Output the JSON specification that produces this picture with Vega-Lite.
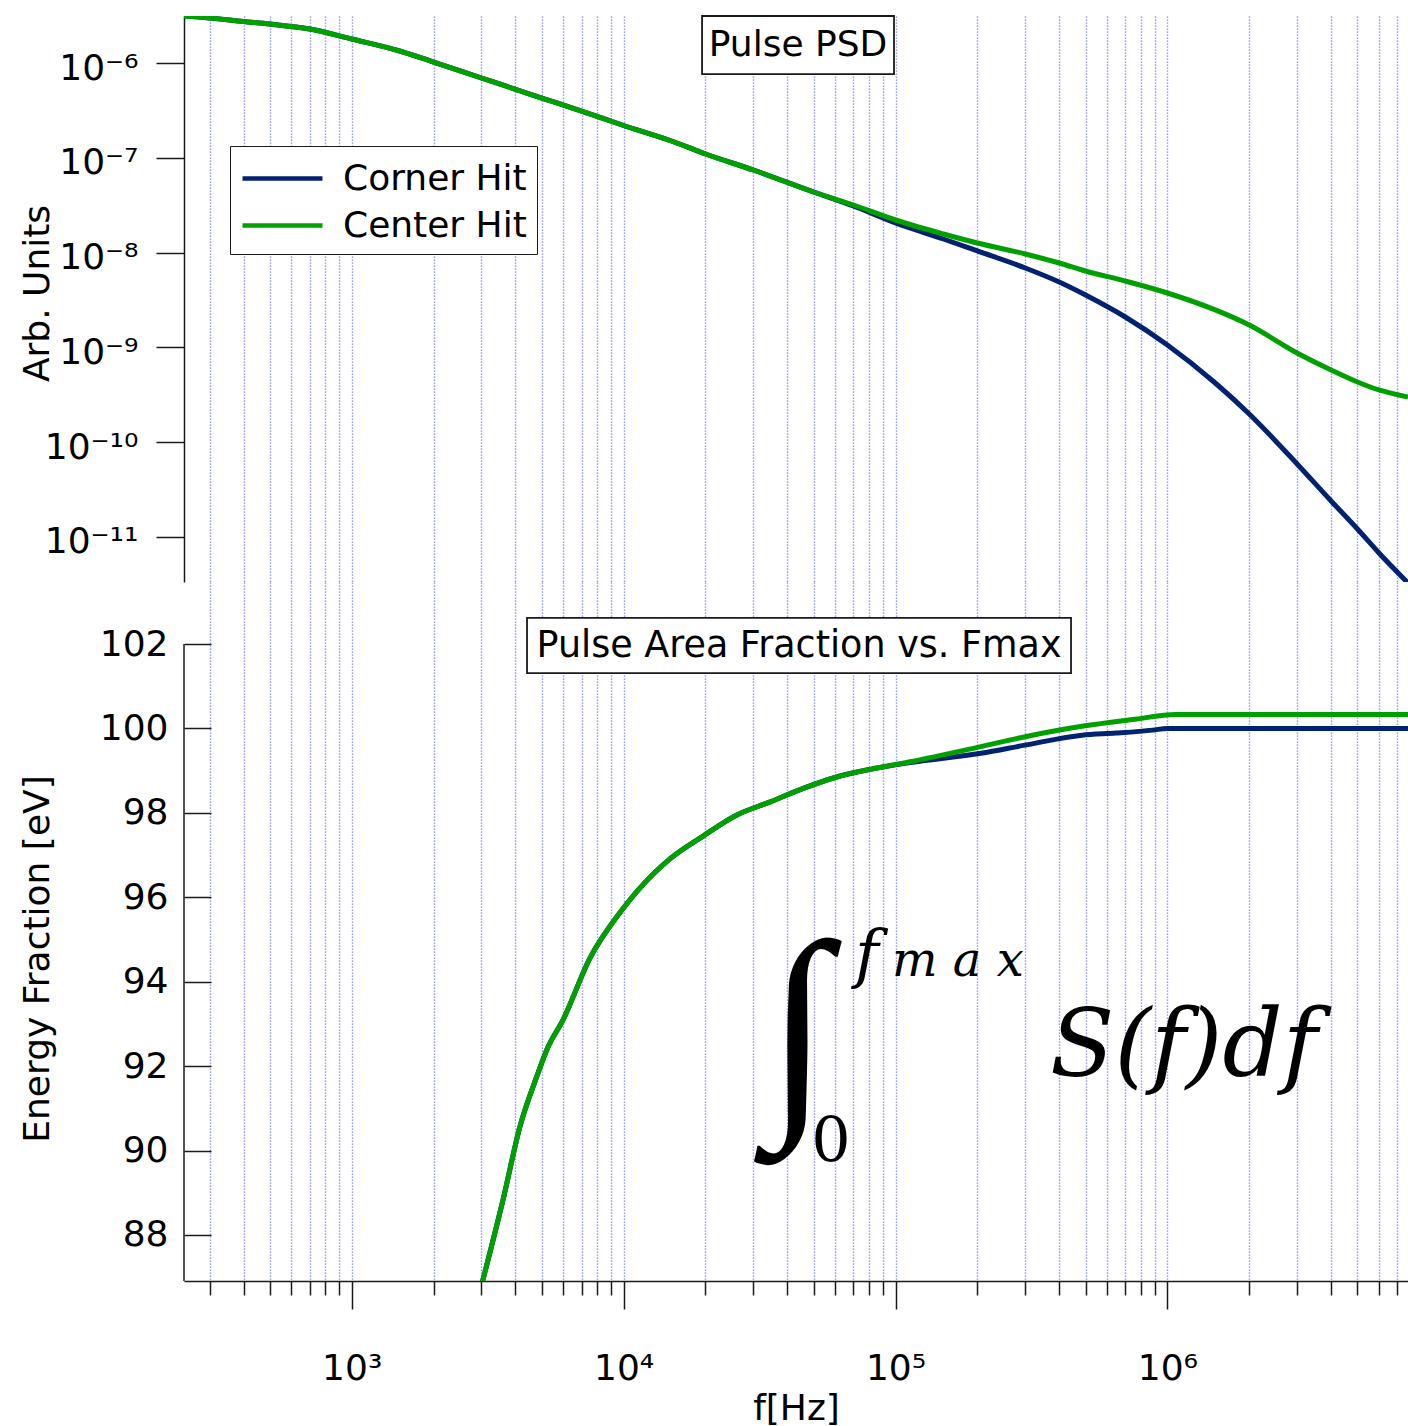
{
  "$schema": "https://vega.github.io/schema/vega-lite/v6.json",
  "background": "white",
  "padding": {"left": 19, "top": 15, "right": 0, "bottom": 0},
  "config": {
    "view": {"stroke": null},
    "font": "DejaVu Sans",
    "axis": {
      "labelFont": "DejaVu Sans", "titleFont": "DejaVu Sans",
      "labelFontSize": 36, "titleFontSize": 36, "titleFontWeight": "normal",
      "labelColor": "black", "titleColor": "black",
      "domainColor": "#1a1a1a", "tickColor": "#1a1a1a",
      "domainWidth": 1.5, "tickWidth": 1.5,
      "gridColor": "#8080ff", "gridDash": [1.2, 1.8], "gridWidth": 1.4, "gridOpacity": 1
    }
  },
  "datasets": {
    "psd": [
      {"s": "Corner Hit", "f": 241.6, "v": 3.132e-6}, {"s": "Corner Hit", "f": 300, "v": 2.983e-6},
      {"s": "Corner Hit", "f": 400, "v": 2.740e-6}, {"s": "Corner Hit", "f": 500, "v": 2.579e-6},
      {"s": "Corner Hit", "f": 700, "v": 2.284e-6}, {"s": "Corner Hit", "f": 1000, "v": 1.791e-6},
      {"s": "Corner Hit", "f": 1500, "v": 1.339e-6}, {"s": "Corner Hit", "f": 2000, "v": 1.024e-6},
      {"s": "Corner Hit", "f": 3000, "v": 6.947e-7}, {"s": "Corner Hit", "f": 5000, "v": 4.272e-7},
      {"s": "Corner Hit", "f": 7000, "v": 3.116e-7}, {"s": "Corner Hit", "f": 10000, "v": 2.191e-7},
      {"s": "Corner Hit", "f": 15000, "v": 1.504e-7}, {"s": "Corner Hit", "f": 20000, "v": 1.097e-7},
      {"s": "Corner Hit", "f": 30000, "v": 7.434e-8}, {"s": "Corner Hit", "f": 50000, "v": 4.357e-8},
      {"s": "Corner Hit", "f": 70000, "v": 3.101e-8}, {"s": "Corner Hit", "f": 100000, "v": 2.052e-8},
      {"s": "Corner Hit", "f": 150000, "v": 1.391e-8}, {"s": "Corner Hit", "f": 200000, "v": 1.040e-8},
      {"s": "Corner Hit", "f": 300000, "v": 6.88e-9}, {"s": "Corner Hit", "f": 400000, "v": 4.896e-9},
      {"s": "Corner Hit", "f": 500000, "v": 3.570e-9}, {"s": "Corner Hit", "f": 700000, "v": 2.092e-9},
      {"s": "Corner Hit", "f": 1000000, "v": 1.060e-9}, {"s": "Corner Hit", "f": 1500000, "v": 4.212e-10},
      {"s": "Corner Hit", "f": 2000000, "v": 1.984e-10}, {"s": "Corner Hit", "f": 3000000, "v": 5.888e-11},
      {"s": "Corner Hit", "f": 4000000, "v": 2.397e-11}, {"s": "Corner Hit", "f": 5000000, "v": 1.214e-11},
      {"s": "Corner Hit", "f": 6000000, "v": 6.783e-12}, {"s": "Corner Hit", "f": 7672000, "v": 3.271e-12},
      {"s": "Center Hit", "f": 241.6, "v": 3.132e-6}, {"s": "Center Hit", "f": 300, "v": 2.983e-6},
      {"s": "Center Hit", "f": 400, "v": 2.740e-6}, {"s": "Center Hit", "f": 500, "v": 2.579e-6},
      {"s": "Center Hit", "f": 700, "v": 2.284e-6}, {"s": "Center Hit", "f": 1000, "v": 1.791e-6},
      {"s": "Center Hit", "f": 1500, "v": 1.339e-6}, {"s": "Center Hit", "f": 2000, "v": 1.024e-6},
      {"s": "Center Hit", "f": 3000, "v": 6.947e-7}, {"s": "Center Hit", "f": 5000, "v": 4.272e-7},
      {"s": "Center Hit", "f": 7000, "v": 3.116e-7}, {"s": "Center Hit", "f": 10000, "v": 2.191e-7},
      {"s": "Center Hit", "f": 15000, "v": 1.504e-7}, {"s": "Center Hit", "f": 20000, "v": 1.097e-7},
      {"s": "Center Hit", "f": 30000, "v": 7.434e-8}, {"s": "Center Hit", "f": 50000, "v": 4.357e-8},
      {"s": "Center Hit", "f": 70000, "v": 3.177e-8}, {"s": "Center Hit", "f": 100000, "v": 2.207e-8},
      {"s": "Center Hit", "f": 150000, "v": 1.571e-8}, {"s": "Center Hit", "f": 200000, "v": 1.263e-8},
      {"s": "Center Hit", "f": 300000, "v": 9.665e-9}, {"s": "Center Hit", "f": 400000, "v": 7.768e-9},
      {"s": "Center Hit", "f": 500000, "v": 6.394e-9}, {"s": "Center Hit", "f": 700000, "v": 5.010e-9},
      {"s": "Center Hit", "f": 1000000, "v": 3.748e-9}, {"s": "Center Hit", "f": 1500000, "v": 2.484e-9},
      {"s": "Center Hit", "f": 2000000, "v": 1.722e-9}, {"s": "Center Hit", "f": 3000000, "v": 8.729e-10},
      {"s": "Center Hit", "f": 4000000, "v": 5.775e-10}, {"s": "Center Hit", "f": 5000000, "v": 4.315e-10},
      {"s": "Center Hit", "f": 6000000, "v": 3.553e-10}, {"s": "Center Hit", "f": 7672000, "v": 2.997e-10}
    ],
    "area": [
      {"s": "Corner Hit", "f": 3000, "e": 86.8}, {"s": "Corner Hit", "f": 3610, "e": 88.86},
      {"s": "Corner Hit", "f": 4160, "e": 90.58}, {"s": "Corner Hit", "f": 4790, "e": 91.75},
      {"s": "Corner Hit", "f": 5220, "e": 92.39}, {"s": "Corner Hit", "f": 6000, "e": 93.11},
      {"s": "Corner Hit", "f": 7520, "e": 94.56}, {"s": "Corner Hit", "f": 9700, "e": 95.64},
      {"s": "Corner Hit", "f": 11200, "e": 96.14}, {"s": "Corner Hit", "f": 14800, "e": 96.91},
      {"s": "Corner Hit", "f": 19600, "e": 97.45}, {"s": "Corner Hit", "f": 26100, "e": 97.95},
      {"s": "Corner Hit", "f": 34600, "e": 98.26}, {"s": "Corner Hit", "f": 45800, "e": 98.58},
      {"s": "Corner Hit", "f": 60800, "e": 98.85}, {"s": "Corner Hit", "f": 80600, "e": 99.03},
      {"s": "Corner Hit", "f": 113000, "e": 99.19}, {"s": "Corner Hit", "f": 206000, "e": 99.41},
      {"s": "Corner Hit", "f": 303000, "e": 99.61}, {"s": "Corner Hit", "f": 485000, "e": 99.84},
      {"s": "Corner Hit", "f": 646000, "e": 99.89}, {"s": "Corner Hit", "f": 883000, "e": 99.96},
      {"s": "Corner Hit", "f": 1000000, "e": 100.0}, {"s": "Corner Hit", "f": 7672000, "e": 100.0},
      {"s": "Center Hit", "f": 3000, "e": 86.8}, {"s": "Center Hit", "f": 3610, "e": 88.86},
      {"s": "Center Hit", "f": 4160, "e": 90.58}, {"s": "Center Hit", "f": 4790, "e": 91.75},
      {"s": "Center Hit", "f": 5220, "e": 92.39}, {"s": "Center Hit", "f": 6000, "e": 93.11},
      {"s": "Center Hit", "f": 7520, "e": 94.56}, {"s": "Center Hit", "f": 9700, "e": 95.64},
      {"s": "Center Hit", "f": 11200, "e": 96.14}, {"s": "Center Hit", "f": 14800, "e": 96.91},
      {"s": "Center Hit", "f": 19600, "e": 97.45}, {"s": "Center Hit", "f": 26100, "e": 97.95},
      {"s": "Center Hit", "f": 34600, "e": 98.26}, {"s": "Center Hit", "f": 45800, "e": 98.58},
      {"s": "Center Hit", "f": 60800, "e": 98.85}, {"s": "Center Hit", "f": 80600, "e": 99.03},
      {"s": "Center Hit", "f": 113000, "e": 99.21}, {"s": "Center Hit", "f": 206000, "e": 99.57},
      {"s": "Center Hit", "f": 303000, "e": 99.81}, {"s": "Center Hit", "f": 485000, "e": 100.05},
      {"s": "Center Hit", "f": 744000, "e": 100.21}, {"s": "Center Hit", "f": 1076000, "e": 100.33},
      {"s": "Center Hit", "f": 7672000, "e": 100.33}
    ]
  },
  "spacing": 0,
  "resolve": {"legend": {"color": "independent"}},
  "vconcat": [
    {
      "width": 1224,
      "height": 566,
      "layer": [
        {
          "data": {"name": "psd"},
          "mark": {"type": "line", "strokeWidth": 5, "clip": true, "interpolate": "monotone"},
          "encoding": {
            "x": {
              "field": "f", "type": "quantitative",
              "scale": {"type": "log", "domain": [241.6, 7672000], "nice": false},
              "axis": {
                "values": [300,400,500,600,700,800,900,1000,2000,3000,4000,5000,6000,7000,8000,9000,10000,20000,30000,40000,50000,60000,70000,80000,90000,100000,200000,300000,400000,500000,600000,700000,800000,900000,1000000,2000000,3000000,4000000,5000000,6000000,7000000],
                "grid": true, "domain": false, "ticks": false, "labels": false, "title": null
              }
            },
            "y": {
              "field": "v", "type": "quantitative",
              "scale": {"type": "log", "domain": [3.35e-12, 3.132e-6], "nice": false},
              "axis": {
                "values": [1e-11, 1e-10, 1e-9, 1e-8, 1e-7, 1e-6],
                "grid": false, "tickSize": 28, "labelPadding": 18, "labelOffset": 5,
                "labelExpr": "datum.value < 5e-11 ? '10⁻¹¹' : datum.value < 5e-10 ? '10⁻¹⁰' : datum.value < 5e-9 ? '10⁻⁹' : datum.value < 5e-8 ? '10⁻⁸' : datum.value < 5e-7 ? '10⁻⁷' : '10⁻⁶'",
                "title": "Arb. Units", "titleX": -136, "titleY": 277, "titleAngle": 270,
                "titleBaseline": "alphabetic", "titleAlign": "center"
              }
            },
            "color": {
              "field": "s", "type": "nominal",
              "scale": {"domain": ["Corner Hit", "Center Hit"], "range": ["#002270", "#00a000"]},
              "legend": {
                "title": null, "orient": "none", "legendX": 46, "legendY": 130,
                "symbolType": "M-1,0H3", "symbolSize": 1600, "symbolStrokeWidth": 4.5,
                "labelFontSize": 36, "labelFont": "DejaVu Sans", "labelColor": "black", "labelLimit": 500,
                "strokeColor": "#1a1a1a", "fillColor": "white", "padding": 10,
                "labelOffset": 58, "rowPadding": 6
              }
            }
          }
        },
        {
          "data": {"values": [{}]},
          "mark": {"type": "rect", "fill": "white", "stroke": "#1a1a1a", "strokeWidth": 1.8},
          "encoding": {
            "x": {"datum": 19430, "type": "quantitative"}, "x2": {"datum": 98740},
            "y": {"datum": 3.132e-6, "type": "quantitative"}, "y2": {"datum": 7.65e-7}
          }
        },
        {
          "data": {"values": [{}]},
          "mark": {"type": "text", "text": "Pulse PSD", "fontSize": 36, "font": "DejaVu Sans", "align": "center", "baseline": "middle", "color": "black"},
          "encoding": {
            "x": {"datum": 43790, "type": "quantitative"},
            "y": {"datum": 1.548e-6, "type": "quantitative"}
          }
        }
      ]
    },
    {
      "width": 1224,
      "height": 699,
      "layer": [
        {
          "data": {"name": "area"},
          "mark": {"type": "line", "strokeWidth": 5, "clip": true, "interpolate": "monotone"},
          "encoding": {
            "x": {
              "field": "f", "type": "quantitative",
              "scale": {"type": "log", "domain": [241.6, 7672000], "nice": false},
              "axis": {
                "values": [300,400,500,600,700,800,900,1000,2000,3000,4000,5000,6000,7000,8000,9000,10000,20000,30000,40000,50000,60000,70000,80000,90000,100000,200000,300000,400000,500000,600000,700000,800000,900000,1000000,2000000,3000000,4000000,5000000,6000000,7000000],
                "grid": true,
                "tickSize": {"condition": {"test": "datum.value == 1000 || datum.value == 10000 || datum.value == 100000 || datum.value == 1000000", "value": 28}, "value": 14},
                "labelExpr": "datum.value == 1000 ? '10³' : datum.value == 10000 ? '10⁴' : datum.value == 100000 ? '10⁵' : datum.value == 1000000 ? '10⁶' : ''",
                "labelPadding": 70, "labelBaseline": "alphabetic", "labelFlush": false, "labelOverlap": false,
                "title": "f[Hz]", "titleY": 138, "titleBaseline": "alphabetic"
              }
            },
            "y": {
              "field": "e", "type": "quantitative",
              "scale": {"domain": [86.91, 103.469], "nice": false, "zero": false},
              "axis": {
                "values": [88, 90, 92, 94, 96, 98, 100, 102],
                "domain": false, "grid": false, "tickSize": -27, "labelPadding": 43,
                "title": "Energy Fraction [eV]", "titleX": -136, "titleY": 376.5, "titleAngle": 270,
                "titleBaseline": "alphabetic", "titleAlign": "center"
              }
            },
            "color": {
              "field": "s", "type": "nominal",
              "scale": {"domain": ["Corner Hit", "Center Hit"], "range": ["#002270", "#00a000"]},
              "legend": null
            }
          }
        },
        {
          "data": {"values": [{}]},
          "mark": {"type": "rule", "color": "#1a1a1a", "strokeWidth": 1.5},
          "encoding": {
            "x": {"datum": 241.6, "type": "quantitative"},
            "y": {"datum": 86.91, "type": "quantitative"}, "y2": {"datum": 102}
          }
        },
        {
          "data": {"values": [{}]},
          "mark": {"type": "rect", "fill": "white", "stroke": "#1a1a1a", "strokeWidth": 1.8},
          "encoding": {
            "x": {"datum": 4413, "type": "quantitative"}, "x2": {"datum": 442100},
            "y": {"datum": 102.62, "type": "quantitative"}, "y2": {"datum": 101.31}
          }
        },
        {
          "data": {"values": [{}]},
          "mark": {"type": "text", "text": "Pulse Area Fraction vs. Fmax", "fontSize": 36.5, "font": "DejaVu Sans", "align": "center", "baseline": "middle", "color": "black"},
          "encoding": {
            "x": {"datum": 44170, "type": "quantitative"},
            "y": {"datum": 101.95, "type": "quantitative"}
          }
        },
        {
          "data": {"values": [{}]},
          "mark": {"type": "text", "text": "∫", "fontSize": 232, "font": "Liberation Serif", "align": "center", "baseline": "middle", "color": "black"},
          "encoding": {
            "x": {"datum": 43790, "type": "quantitative"},
            "y": {"datum": 92.785, "type": "quantitative"}
          }
        },
        {
          "data": {"values": [{}]},
          "mark": {"type": "text", "text": "0", "fontSize": 62, "font": "DejaVu Serif", "align": "center", "baseline": "alphabetic", "color": "black"},
          "encoding": {
            "x": {"datum": 57900, "type": "quantitative"},
            "y": {"datum": 89.75, "type": "quantitative"}
          }
        },
        {
          "data": {"values": [{}]},
          "mark": {"type": "text", "text": "f", "fontSize": 64, "font": "DejaVu Serif", "fontStyle": "italic", "align": "left", "baseline": "alphabetic", "color": "black"},
          "encoding": {
            "x": {"datum": 71000, "type": "quantitative"},
            "y": {"datum": 94.14, "type": "quantitative"}
          }
        },
        {
          "data": {"values": [{}]},
          "mark": {"type": "text", "text": "m a x", "fontSize": 48, "font": "DejaVu Serif", "fontStyle": "italic", "align": "left", "baseline": "alphabetic", "color": "black"},
          "encoding": {
            "x": {"datum": 97070, "type": "quantitative"},
            "y": {"datum": 94.14, "type": "quantitative"}
          }
        },
        {
          "data": {"values": [{}]},
          "mark": {"type": "text", "text": "S(f)df", "fontSize": 94, "font": "DejaVu Serif", "fontStyle": "italic", "align": "left", "baseline": "alphabetic", "color": "black"},
          "encoding": {
            "x": {"datum": 370000, "type": "quantitative"},
            "y": {"datum": 91.77, "type": "quantitative"}
          }
        }
      ]
    }
  ]
}
